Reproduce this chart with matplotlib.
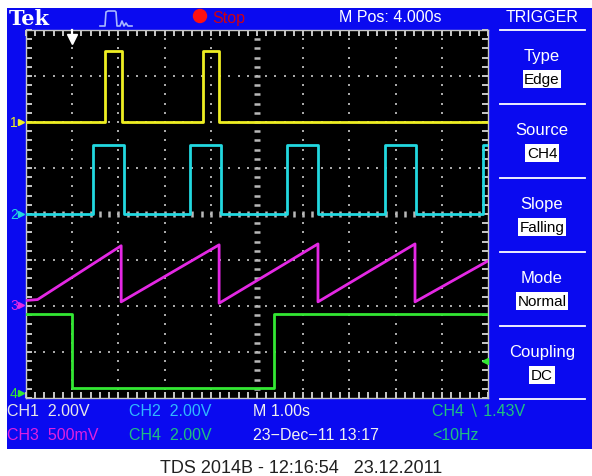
import numpy as np
import matplotlib
matplotlib.use('Agg')
import matplotlib.pyplot as plt
from matplotlib import font_manager as fm
from matplotlib.patches import Rectangle, Circle

# ---------------- data (read from the screen) ----------------
# time axis: 1.00 s/div, M Pos 4.000 s -> screen spans -1 s .. 9 s
ch1_edges = [0.72, 1.08, 2.84, 3.18]          # s
ch1_levels = (0.0, 3.08)                       # V (low, high)
ch2_edges = [0.44, 1.12, 2.55, 3.21, 4.66, 5.31, 6.78, 7.44, 8.90]
ch2_levels = (0.0, 3.00)
ch3_t = [-1.0, -0.75, 1.06, 1.06, 3.18, 3.18, 5.32, 5.32, 7.42, 7.42, 9.0]
ch3_v = [0.05, 0.06, 0.645, 0.035, 0.655, 0.02, 0.665, 0.035, 0.665, 0.035, 0.48]
ch4_edges = [-0.01, 4.37]
ch4_levels = (0.24, 3.46)
trig_level = 1.43

volts_per_div = [2.0, 2.0, 0.5, 2.0]
ground_div = [6.0, 4.0, 2.02, 0.10]
trace_colors = ['#eeee22', '#22d8e0', '#e428e4', '#33e833']

top_texts = ['M Pos: 4.000s', 'TRIGGER']
menu_labels = ['Type', 'Source', 'Slope', 'Mode', 'Coupling']
menu_values = ['Edge', 'CH4', 'Falling', 'Normal', 'DC']
status_row1 = [('CH1  2.00V', '#e8e8e8'), ('CH2  2.00V', '#30b8ff'),
               ('M 1.00s', '#f0f0f0'), ('CH4 \u2216 1.43V', '#20c080')]
status_row2 = [('CH3  500mV', '#e020e0'), ('CH4  2.00V', '#20c080'),
               ('23\u2212Dec\u221211 13:17', '#f0f0f0'), ('<10Hz', '#20c080')]
footer = 'TDS 2014B - 12:16:54   23.12.2011'

# ---------------- fonts ----------------
names = {f.name for f in fm.fontManager.ttflist}
narrow = 'Liberation Sans Narrow' if 'Liberation Sans Narrow' in names else 'Liberation Sans'
plt.rcParams['font.family'] = [narrow, 'DejaVu Sans']

BLUE = '#0a0af0'
W, H = 592, 477
fig = plt.figure(figsize=(W / 100, H / 100), dpi=100)
fig.patch.set_facecolor('white')

bg = fig.add_axes([0, 0, 1, 1], zorder=0)
bg.set_xlim(0, W)
bg.set_ylim(H, 0)
bg.axis('off')
bg.add_patch(Rectangle((7, 9), W - 7, 441, facecolor=BLUE, edgecolor='none'))

# plot area in pixels
L, T, R, B = 26, 31, 488, 399
ax = fig.add_axes([L / W, (H - B) / H, (R - L) / W, (B - T) / H], zorder=2)
ax.set_facecolor('black')
ax.set_xlim(-1, 9)
ax.set_ylim(0, 8)

# graticule
dot = dict(color='#a8a8a8', marker='s', s=2.6, linewidths=0, zorder=1)
fine_y = np.arange(0.2, 8.0, 0.2)
fine_x = np.arange(-0.8, 9.0, 0.2)
for xv in range(0, 9):
    if xv == 4:
        continue
    ax.scatter(np.full(fine_y.size, xv), fine_y, **dot)
for yv in range(1, 8):
    if yv == 4:
        continue
    ax.scatter(fine_x, np.full(fine_x.size, yv), **dot)
ax.plot(np.full(fine_y.size, 4), fine_y, ls='none', marker='_', ms=5,
        mew=1.8, color='#b8b8b8', zorder=1)
ax.plot(fine_x, np.full(fine_x.size, 4), ls='none', marker='|', ms=5,
        mew=1.8, color='#b8b8b8', zorder=1)
ax.set_xticks(np.arange(-1, 9.01, 1))
ax.set_xticks(np.arange(-1, 9.01, 0.2), minor=True)
ax.set_yticks(np.arange(0, 8.01, 1))
ax.set_yticks(np.arange(0, 8.01, 0.2), minor=True)
ax.tick_params(which='both', direction='in', length=4, width=1.4,
               color='#c8c8c8', top=True, right=True,
               labelbottom=False, labelleft=False)
for s in ax.spines.values():
    s.set_color('#c8c8c8')
    s.set_linewidth(1.0)


def to_div(v, ch):
    return ground_div[ch] + np.asarray(v, dtype=float) / volts_per_div[ch]


def square(edges, levels, start_high):
    lo, hi = levels
    lev = hi if start_high else lo
    xs, ys = [-1.0], [lev]
    for e in edges:
        nxt = lo if lev == hi else hi
        xs += [e, e]
        ys += [lev, nxt]
        lev = nxt
    xs.append(9.0)
    ys.append(lev)
    return np.array(xs), np.array(ys)


x1, y1 = square(ch1_edges, ch1_levels, False)
x2, y2 = square(ch2_edges, ch2_levels, False)
x4, y4 = square(ch4_edges, ch4_levels, True)
lw = 2.0
ax.plot(x1, to_div(y1, 0), color=trace_colors[0], lw=lw, zorder=3)
ax.plot(x2, to_div(y2, 1), color=trace_colors[1], lw=lw, zorder=3)
ax.plot(ch3_t, to_div(ch3_v, 2), color=trace_colors[2], lw=lw, zorder=3)
ax.plot(x4, to_div(y4, 3), color=trace_colors[3], lw=lw, zorder=3)

# trigger level marker and trigger position marker
ax.plot([8.93], [to_div(trig_level, 3)], marker='<', ms=5, color=trace_colors[3],
        clip_on=False, zorder=4)
ax.plot([0, 0], [7.99, 7.85], color='white', lw=1.6, zorder=4, clip_on=False)
ax.plot([0], [7.8], marker='v', ms=7, color='white', zorder=4, clip_on=False)

# channel ground markers on the left
for i in range(4):
    yp = B - ground_div[i] * (B - T) / 8
    bg.text(14, yp, str(i + 1), color=trace_colors[i], fontsize=10,
            ha='center', va='center')
    bg.plot([21], [yp], marker='>', ms=4, color=trace_colors[i])

# top bar
bg.text(9, 19, 'Tek', family='DejaVu Serif', fontweight='bold', fontsize=15,
        color='white', va='center', ha='left')
bg.plot([100, 105, 106, 108, 115, 116, 117, 120, 122, 124, 126, 128, 132],
        [27, 27, 13, 12, 12, 13, 27, 27, 22, 27, 24, 27, 27],
        color='#a8b8ff', lw=1.2)
bg.add_patch(Circle((200, 17), 6.5, color='#ff1010'))
bg.text(212, 18, 'Stop', color='#d00010', fontsize=11.5, va='center', ha='left')
bg.text(390, 18, top_texts[0], color='white', fontsize=11.5, va='center', ha='center')
bg.text(542, 18, top_texts[1], color='white', fontsize=11.5, va='center', ha='center')

# side menu
for ys in [31, 105, 179, 253, 327, 400]:
    bg.plot([500, 585], [ys, ys], color='white', lw=1.3)
for k, (lab, val) in enumerate(zip(menu_labels, menu_values)):
    y0 = 57 + 74 * k
    bg.text(542, y0, lab, color='white', fontsize=12, ha='center', va='center')
    bg.text(542, y0 + 23, val, color='black', fontsize=11, ha='center', va='center',
            bbox=dict(facecolor='white', edgecolor='none', pad=1.2))

# status lines
cols = [7, 129, 253, 432]
for (txt, c), xx in zip(status_row1, cols):
    bg.text(xx, 412, txt, color=c, fontsize=11.5, ha='left', va='center')
for (txt, c), xx in zip(status_row2, cols):
    bg.text(xx, 436, txt, color=c, fontsize=11.5, ha='left', va='center')

bg.text(301, 469, footer, color='#202020', fontsize=13, ha='center', va='center',
        family='Liberation Sans')

fig.savefig('out.png', dpi=100, facecolor='white')
